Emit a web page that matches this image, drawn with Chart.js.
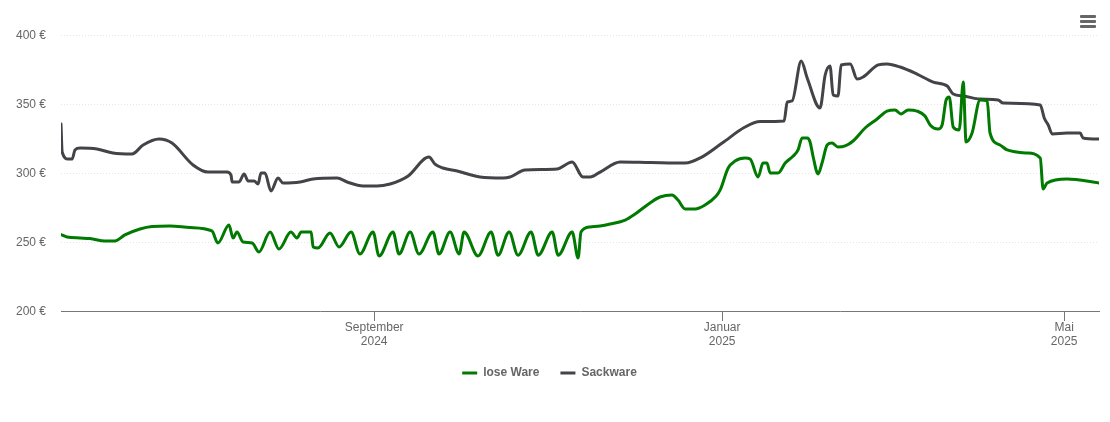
<!DOCTYPE html>
<html>
<head>
<meta charset="utf-8">
<title>Preisentwicklung</title>
<script src="https://cdn.jsdelivr.net/npm/chart.js@4"></script>
<style>
    html, body { margin: 0; padding: 0; background: #fff; }
    #wrap { position: relative; width: 1110px; height: 422px; overflow: hidden; }
    #menu { position: absolute; left: 1080px; top: 15px; width: 16px; }
    #menu span { display: block; height: 3px; margin-bottom: 2px; background: #666; border-radius: 1px; }
</style>
</head>
<body>
<div id="wrap">
    <canvas id="priceChart" width="1110" height="422"></canvas>
    <div id="menu"><span></span><span></span><span></span></div>
</div>
<script>
// days since 14 May 2024
const tickDays = [109.8, 231.8, 351.7];
const tickLabels = [['September', '2024'], ['Januar', '2025'], ['Mai', '2025']];
const yTicks = [200, 250, 300, 350, 400];

const loseDays = [0, 2.1, 6.7, 10.2, 15.4, 18.9, 22.4, 27.7, 31.9, 38.2, 45.2, 52.9, 55, 58.9, 60.3, 61.7, 63.8, 67, 69.4, 73.3, 76.4, 80.6, 82.7, 84.2, 87.7, 88.4, 90.1, 94.3, 97.5, 101.7, 104.8, 109.4, 111.5, 116.4, 118.5, 122.4, 125.5, 130.4, 132.5, 136.4, 139.6, 141.3, 146.2, 150.8, 153.2, 157.1, 160.2, 164.8, 167.3, 172.2, 174.3, 179.2, 181.3, 182.3, 185.5, 189, 192.5, 197.8, 201.3, 206.5, 210, 214.2, 216.3, 218.8, 222.3, 225.8, 229.7, 231.1, 233.9, 236.3, 239.8, 241.6, 244.4, 246.1, 247.5, 248.6, 251.4, 253.9, 256.7, 258.4, 259.8, 261.6, 262.6, 263.7, 265.4, 266.8, 268.6, 270.3, 272.4, 274.9, 277.7, 281.9, 286.1, 289.6, 292.4, 294.5, 297, 300.1, 302.9, 304.7, 307.5, 308.9, 310.3, 311.4, 312.8, 314.9, 316.3, 317.3, 319.4, 322.2, 324.7, 325.7, 329.2, 331.7, 338.7, 343.3, 344.3, 345.7, 352.7, 363.9];
const losePrices = [255.4, 253.6, 252.9, 252.5, 250.7, 250.7, 255.1, 259.4, 261.2, 261.6, 260.5, 258, 249.3, 262.3, 252.9, 257.2, 250, 249.3, 242.8, 257.2, 244.9, 257.2, 252.9, 257.2, 257.2, 246.4, 245.7, 256.5, 246.4, 257.2, 241.3, 257.2, 239.9, 257.2, 241.3, 257.2, 241.3, 257.2, 241.3, 257.2, 241.3, 257.2, 239.9, 257.2, 240.4, 257.2, 240.4, 257.2, 240.4, 257.2, 240.4, 257.2, 238.4, 257.2, 260.9, 261.6, 263, 265.9, 270.3, 278.3, 282.6, 284.1, 280.4, 273.9, 273.9, 276.8, 283.3, 287.7, 303.6, 308.7, 310.9, 310.1, 297.1, 307.2, 307.2, 300, 300, 307.2, 312.3, 316.7, 325.4, 325.4, 322.5, 311.6, 299.3, 307.2, 320.3, 321.7, 318.8, 319.6, 323.2, 332.6, 339.1, 344.9, 345.7, 342.8, 345.7, 344.9, 341.3, 334.8, 331.9, 334.8, 352.9, 355.1, 333.3, 331.2, 365.9, 322.5, 329, 352.9, 352.2, 329, 320.3, 316.7, 314.5, 310.9, 288.4, 292.8, 295.7, 292.8];

const sackDays = [0, 0.4, 2.5, 3.9, 4.9, 6.7, 12.6, 18.2, 24.9, 28.8, 34.4, 38.9, 46.3, 51.5, 58.2, 59.6, 60, 62.4, 64.2, 65.6, 67.7, 69.1, 70.1, 71.5, 73.6, 76.1, 77.8, 83.8, 88.4, 96.8, 100.3, 105.9, 110.8, 115.4, 118.9, 121.7, 129, 131.1, 133.9, 138.9, 146.9, 155, 157.4, 162.7, 173.9, 179.2, 183, 185.5, 189, 196, 206.5, 218.8, 224.1, 231.8, 239.8, 245.1, 253.5, 254.6, 256.3, 259.5, 261.6, 266.1, 267.9, 269.6, 270.7, 272.4, 273.5, 276.7, 279.1, 281.2, 286.5, 289.6, 294.2, 300.1, 305.8, 310.7, 312.8, 316.3, 322.2, 328.5, 330.3, 343.3, 344.7, 346.1, 347.5, 352.7, 357.3, 358.3, 363.9];
const sackPrices = [335.5, 315.2, 310.1, 310.1, 316.7, 318.1, 317.4, 314.5, 313.8, 320.3, 324.6, 321.7, 305.8, 300.7, 300.7, 298.5, 293.5, 293.5, 299.3, 294.2, 294.2, 292, 300, 300, 287, 296.4, 292.8, 293.5, 295.7, 296.4, 293.5, 290.6, 290.6, 292, 294.6, 297.8, 311.6, 306.5, 303.6, 301.4, 297.1, 296.4, 297.1, 302.2, 302.9, 308, 297.1, 297.1, 300.7, 308, 307.6, 307.2, 310.9, 321.7, 333.3, 337.3, 337.7, 351.4, 352.2, 381.2, 368.8, 347.1, 371, 377.5, 356.5, 355.8, 378.3, 379, 368.1, 369.6, 378.3, 379, 376.8, 371.7, 365.9, 363, 357.2, 355.8, 353.6, 352.9, 350.7, 349.3, 339.9, 334.8, 328.3, 329, 329, 325.4, 324.6];

const toPoints = (days, prices) => days.map((d, i) => ({ x: d, y: prices[i] }));
const font = { family: '"Liberation Sans", Arial, sans-serif', size: 12 };

new Chart(document.getElementById('priceChart').getContext('2d'), {
    type: 'line',
    data: {
        datasets: [
            { label: 'lose Ware', data: toPoints(loseDays, losePrices), borderColor: '#007a00', backgroundColor: '#007a00', borderWidth: 3 },
            { label: 'Sackware', data: toPoints(sackDays, sackPrices), borderColor: '#434348', backgroundColor: '#434348', borderWidth: 3 }
        ]
    },
    options: {
        responsive: false,
        animation: false,
        layout: { padding: { top: 35, right: 11, bottom: 33, left: 0 } },
        elements: {
            point: { radius: 0 },
            line: { cubicInterpolationMode: 'monotone', borderCapStyle: 'round', borderJoinStyle: 'round' }
        },
        plugins: {
            tooltip: { enabled: false },
            legend: {
                position: 'bottom',
                labels: {
                    usePointStyle: true,
                    pointStyle: 'line',
                    pointStyleWidth: 15,
                    boxHeight: 12,
                    padding: 21,
                    color: '#666',
                    font: { family: font.family, size: 12, weight: 'bold' }
                }
            }
        },
        scales: {
            x: {
                type: 'linear',
                min: 0,
                max: 363.9,
                afterBuildTicks: axis => { axis.ticks = tickDays.map(v => ({ value: v })); },
                afterFit: axis => { axis.height = 35; },
                border: { color: '#777', width: 1 },
                grid: { drawOnChartArea: false, drawTicks: true, tickLength: 10, tickColor: '#777' },
                ticks: {
                    autoSkip: false,
                    maxRotation: 0,
                    padding: -1,
                    color: '#666',
                    font: font,
                    callback: value => tickLabels[tickDays.indexOf(value)]
                }
            },
            y: {
                min: 200,
                max: 400,
                afterBuildTicks: axis => { axis.ticks = yTicks.map(v => ({ value: v })); },
                afterFit: axis => { axis.width = 61; },
                border: { display: false, dash: [1, 2] },
                grid: { color: '#e6e6e6', drawTicks: false },
                ticks: {
                    padding: 15,
                    labelOffset: 1,
                    color: '#666',
                    font: font,
                    callback: value => value + ' €'
                }
            }
        }
    }
});
</script>
</body>
</html>
